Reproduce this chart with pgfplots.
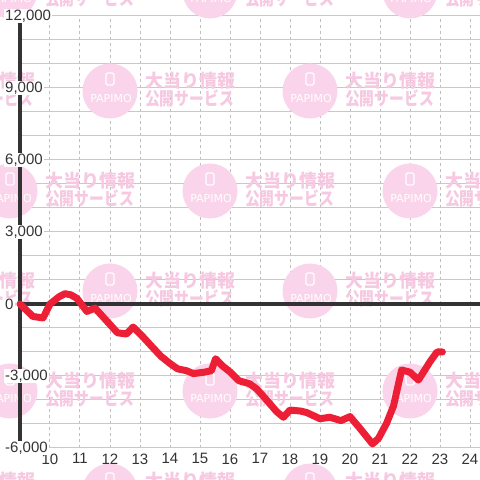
\documentclass[border=0pt]{standalone}
\usepackage{fontspec}
\setmainfont{Liberation Sans}
\newfontfamily\cjk{Noto Sans CJK JP}
\newfontfamily\wmfont{DejaVu Sans}
\usepackage{graphicx}
\usepackage{pgfplots}
\pgfplotsset{compat=1.18}
\definecolor{wmcirc}{RGB}{250,212,234}
\definecolor{wmtext}{RGB}{246,200,225}
\definecolor{hgrid}{RGB}{200,200,200}
\definecolor{vgrid}{RGB}{190,190,190}
\definecolor{axdark}{RGB}{51,51,51}
\definecolor{redline}{RGB}{237,31,54}

\pgfplotsset{geom/.style={at={(20pt,32pt)}, anchor=south west, scale only axis,
  width=460pt, height=432pt, xmin=9, xmax=24.33333, ymin=-6000, ymax=12000,
  scaled ticks=false}}

\pgfplotstableread{
h v
9.00 0
9.43 -520
9.77 -580
10.00 0
10.30 300
10.50 430
10.70 380
10.90 230
11.23 -310
11.50 -170
12.25 -1200
12.55 -1250
12.77 -960
13.07 -1330
13.40 -1780
13.70 -2180
14.00 -2480
14.25 -2700
14.55 -2780
14.78 -2900
15.15 -2840
15.38 -2780
15.52 -2280
15.75 -2580
16.00 -2830
16.30 -3200
16.65 -3320
16.90 -3550
17.22 -4000
17.55 -4480
17.78 -4720
18.00 -4420
18.35 -4460
18.55 -4520
19.00 -4780
19.33 -4720
19.70 -4860
20.00 -4690
20.33 -5180
20.75 -5830
20.95 -5600
21.22 -4970
21.45 -4250
21.72 -2750
22.00 -2840
22.28 -3170
22.67 -2400
22.90 -2000
23.08 -2000
}\datatable

\newcommand{\wmark}[2]{%
 \begin{scope}[shift={(#1,#2)}]
  \fill[wmcirc] (0,0) circle[radius=27.5pt];
  \draw[white, line width=1.1pt, rounded corners=1.5pt] (-4,-18) rectangle (4,-6);
  \node[white, inner sep=0, font=\wmfont\fontsize{11}{11}\selectfont] at (1,7) {PAPIMO};
  \node[wmtext, inner sep=0, anchor=west, font=\cjk\bfseries\fontsize{18}{18}\selectfont] at (35,-10.5) {大当り情報};
  \node[wmtext, inner sep=0, anchor=west, font=\cjk\bfseries\fontsize{18}{18}\selectfont] at (35,8) {\scalebox{0.82}[1]{公開サービス}};
 \end{scope}}

\begin{document}
\begin{tikzpicture}
\useasboundingbox (0,0) rectangle (480pt,480pt);
\clip (0,0) rectangle (480pt,480pt);
\fill[white] (0,0) rectangle (480pt,480pt);
\begin{axis}[geom,
  xtick={10,...,24}, ytick={-6000,-5000,...,12000},
  xticklabels={}, yticklabels={},
  xmajorgrids, ymajorgrids,
  x grid style={vgrid, dash pattern=on 3pt off 3pt, line width=1pt},
  y grid style={hgrid, line width=1pt},
  axis line style={draw=none}, major tick length=0pt, tick style={draw=none}]
\end{axis}
\begin{scope}[shift={(0,480pt)}, x=1pt, y=-1pt]
 \foreach \cx/\cy in {10/-9,210/-9,410/-9,-90/91,110/91,310/91,10/191,210/191,410/191,-90/291,110/291,310/291,10/391,210/391,410/391,-90/491,110/491,310/491}{\wmark{\cx}{\cy}}
\end{scope}
\begin{axis}[geom, clip=false,
  axis x line*=bottom, axis y line*=left,
  x axis line style={draw=none},
  y axis line style={axdark, line width=3.2pt, -},
  xtick={10,...,24},
  xticklabels={10,11,12,13,14,15,16,17,18,19,20,21,22,23,24},
  ytick={-6000,-3000,...,12000},
  yticklabels={{-6,000},{-3,000},{0},{3,000},{6,000},{9,000},{12,000}},
  major tick length=0pt, tick style={draw=none},
  tick label style={font=\fontsize{15}{17}\selectfont, text=axdark},
  yticklabel style={anchor=west, xshift=-16pt, fill=white, inner sep=1pt},
  xticklabel style={yshift=-2pt}]
 \draw[axdark, line width=3.2pt] (axis cs:9,0) -- (axis cs:24.34,0);
 \addplot[redline, line width=7pt, line join=round, line cap=round] table[x=h, y=v] {\datatable};
\end{axis}
\end{tikzpicture}
\end{document}
